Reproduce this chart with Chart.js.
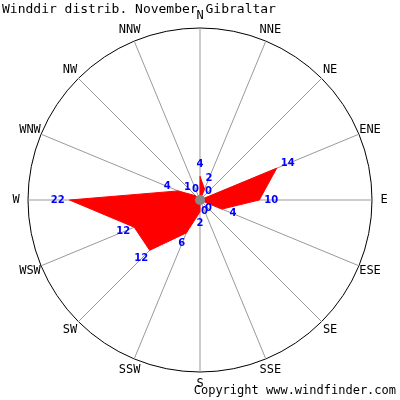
<!DOCTYPE html><html><head><script src="https://cdn.jsdelivr.net/npm/chart.js"></script>
<style>body{margin:0;background:#fff}</style></head><body><canvas id="c" width="400" height="400" style="width:400px;height:400px"></canvas>
<script>
const directions=["N","NNE","NE","ENE","E","ESE","SE","SSE","S","SSW","SW","WSW","W","WNW","NW","NNW"];
const frequencies=[4,2,0,14,10,4,0,0,2,6,12,12,22,4,1,0];
const plot={id:'p',afterDatasetsDraw(ch){const s=ch.scales.r,c=ch.ctx;c.save();
c.fillStyle='#888';c.beginPath();c.arc(s.xCenter,s.yCenter,5,0,7);c.fill();
c.font='12px "DejaVu Sans Mono"';c.fillStyle='#000';c.textAlign='center';c.textBaseline='middle';
directions.forEach((d,i)=>{const p=s.getPointPosition(i,s.drawingArea+12);c.fillText(d,p.x,p.y);});
c.font='bold 10px "DejaVu Sans"';c.fillStyle='#00f';
frequencies.forEach((v,i)=>{const p=s.getPointPositionForValue(i,v+2);c.fillText(String(v),p.x,p.y);});
c.textAlign='left';c.textBaseline='top';c.fillStyle='#000';c.font='13px "DejaVu Sans Mono"';
c.fillText('Winddir distrib. November Gibraltar',2,3);
c.textAlign='right';c.textBaseline='bottom';c.font='12px "DejaVu Sans Mono"';
c.fillText('Copyright www.windfinder.com',396,397);
c.restore();}};
new Chart(document.getElementById('c'),{type:'radar',data:{labels:directions,datasets:[{data:frequencies,backgroundColor:'#ff0000',borderColor:'#ff0000',borderWidth:1,pointRadius:0,fill:true}]},
options:{responsive:false,animation:false,layout:{padding:28},plugins:{legend:{display:false},tooltip:{enabled:false},title:{display:false}},
scales:{r:{min:0,max:29,ticks:{display:false,stepSize:29},pointLabels:{display:false},angleLines:{color:'#999'},grid:{circular:true,color:(x)=>x.index===x.chart.scales.r.ticks.length-1?'#000':'rgba(0,0,0,0)',lineWidth:1}}}},
plugins:[plot]});
</script></body></html>
